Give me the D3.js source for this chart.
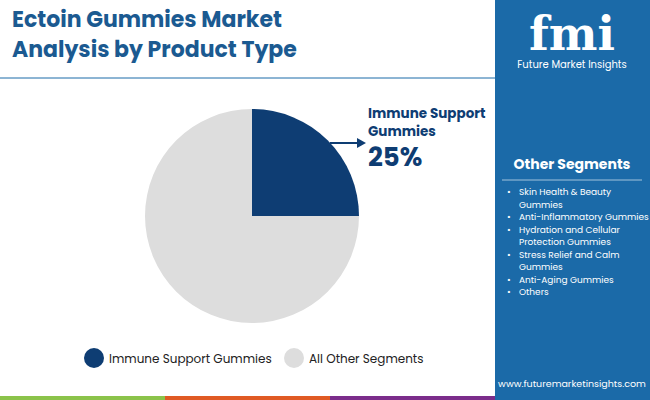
<!DOCTYPE html><html><head><meta charset="utf-8">
<script src="https://cdn.jsdelivr.net/npm/d3@7"></script>
<style>body{margin:0}svg{display:block;font-family:Poppins,"Open Sans",sans-serif}</style></head><body>
<svg id="c" width="650" height="400"></svg>
<script>
const categories=["Immune Support Gummies","All Other Segments"];
const values=[25,75];
const colors=["#0e3d73","#dddddd"];
const otherSegments=[["Skin Health & Beauty","Gummies"],["Anti-Inflammatory Gummies"],["Hydration and Cellular","Protection Gummies"],["Stress Relief and Calm","Gummies"],["Anti-Aging Gummies"],["Others"]];
const svg=d3.select("#c");
svg.append("rect").attr("x",495).attr("width",155).attr("height",400).attr("fill","#1b6aa8");
[["#8bc34a",0],["#e05a24",165],["#7b2d8b",330]].forEach(([c,x])=>svg.append("rect").attr("x",x).attr("y",396).attr("width",165).attr("height",4).attr("fill",c));
svg.append("line").attr("x1",0).attr("x2",495).attr("y1",78).attr("y2",78).attr("stroke","#1b6aa8").attr("stroke-width",1);
svg.append("text").attr("x",12).attr("y",27).attr("font-size",22).attr("font-weight",700).attr("fill","#1b5a91").text("Ectoin Gummies Market");
svg.append("text").attr("x",12).attr("y",57).attr("font-size",22).attr("font-weight",700).attr("fill","#1b5a91").text("Analysis by Product Type");
// logo
svg.append("text").attr("x",572).attr("y",50).attr("text-anchor","middle").attr("font-size",46).attr("font-weight",700).attr("fill","#fff").attr("font-family","DejaVu Serif").text("fmi");
svg.append("text").attr("x",572).attr("y",68).attr("text-anchor","middle").attr("font-size",10).attr("fill","#fff").text("Future Market Insights");
svg.append("text").attr("x",572).attr("y",169).attr("text-anchor","middle").attr("font-size",14).attr("font-weight",700).attr("fill","#fff").text("Other Segments");
svg.append("line").attr("x1",502).attr("x2",642).attr("y1",180).attr("y2",180).attr("stroke","#fff").attr("stroke-opacity",0.6);
let y=195;
otherSegments.forEach(s=>{svg.append("text").attr("x",507).attr("y",y).attr("font-size",9).attr("fill","#fff").text("•");
s.forEach(l=>{svg.append("text").attr("x",519).attr("y",y).attr("font-size",9).attr("fill","#fff").text(l);y+=12.5;});});
svg.append("text").attr("x",572).attr("y",387).attr("text-anchor","middle").attr("font-size",9.5).attr("fill","#fff").text("www.futuremarketinsights.com");
// pie
const pie=d3.pie().sort(null)(values);
const arc=d3.arc().innerRadius(0).outerRadius(107);
const g=svg.append("g").attr("transform","translate(252,216)");
g.selectAll("path").data(pie).join("path").attr("d",arc).attr("fill",(d,i)=>colors[i]);
svg.append("line").attr("x1",330).attr("y1",143).attr("x2",360).attr("y2",143).attr("stroke","#0e3d73").attr("stroke-width",2);
svg.append("path").attr("d","M366,143 L357,138 L357,148 Z").attr("fill","#0e3d73");
svg.append("text").attr("x",368).attr("y",118).attr("font-size",13.5).attr("font-weight",700).attr("fill","#0e3d73").text("Immune Support");
svg.append("text").attr("x",368).attr("y",136).attr("font-size",13.5).attr("font-weight",700).attr("fill","#0e3d73").text("Gummies");
svg.append("text").attr("x",368).attr("y",166).attr("font-size",26).attr("font-weight",700).attr("fill","#0e3d73").text(values[0]+"%");
// legend
const lx=[94,294];
categories.forEach((c,i)=>{svg.append("circle").attr("cx",lx[i]).attr("cy",358).attr("r",10).attr("fill",colors[i]);
svg.append("text").attr("x",lx[i]+15).attr("y",363).attr("font-size",12).attr("fill","#222").text(c);});
</script></body></html>
